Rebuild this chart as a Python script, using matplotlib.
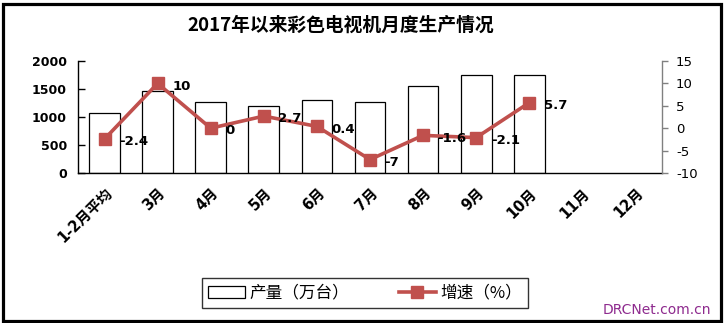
import matplotlib
matplotlib.use("Agg")
import matplotlib.pyplot as plt
from matplotlib.patches import Rectangle, Patch
from matplotlib.lines import Line2D

categories = ["1-2月平均", "3月", "4月", "5月", "6月", "7月", "8月", "9月", "10月", "11月", "12月"]
output = [1070, 1460, 1262, 1192, 1298, 1262, 1555, 1750, 1750]
growth = [-2.4, 10, 0, 2.7, 0.4, -7, -1.6, -2.1, 5.7]
growth_labels = ["-2.4", "10", "0", "2.7", "0.4", "-7", "-1.6", "-2.1", "5.7"]
left_ticks = [0, 500, 1000, 1500, 2000]
right_ticks = [-10, -5, 0, 5, 10, 15]

FAM = ["DejaVu Sans", "Noto Sans CJK SC"]
CJK = ["Noto Sans CJK SC", "DejaVu Sans"]
plt.rcParams["font.family"] = FAM

W, H = 725, 323
fig = plt.figure(figsize=(W / 100, H / 100), dpi=100)
fig.patch.set_facecolor("white")

ax = fig.add_axes([78 / W, 1 - 173 / H, (662 - 78) / W, (173 - 61) / H])
ax2 = ax.twinx()

x = list(range(len(categories)))
ax.bar(x[:len(output)], output, width=0.58, facecolor="white", edgecolor="black", linewidth=0.9, zorder=2)
ax.set_xlim(-0.5, len(categories) - 0.5)
ax.set_ylim(0, 2000)
ax.set_yticks(left_ticks)
ax.set_yticklabels([str(v) for v in left_ticks], fontsize=9, fontweight="bold")
ax.tick_params(axis="y", direction="in", length=5, width=1, pad=8)
ax.set_xticks(x)
ax.set_xticklabels(categories, rotation=45, ha="right", rotation_mode="anchor",
                   fontsize=10.5, fontweight="bold", family=FAM)
ax.tick_params(axis="x", length=0, pad=9)
for s in ["top", "right"]:
    ax.spines[s].set_visible(False)
ax.spines["left"].set_linewidth(1)
ax.spines["bottom"].set_linewidth(1)
ax.spines["bottom"].set_zorder(5)

ax2.plot(x[:len(growth)], growth, color="#C0504D", linewidth=2.6, marker="s", markersize=8.5, zorder=4)
ax2.set_ylim(-10, 15)
ax2.set_yticks(right_ticks)
ax2.set_yticklabels([str(v) for v in right_ticks], fontsize=9.5)
ax2.tick_params(axis="y", direction="out", length=4, width=1, color="#808080", pad=6)
for s in ["top", "left", "bottom"]:
    ax2.spines[s].set_visible(False)
ax2.spines["right"].set_color("#808080")
ax2.spines["right"].set_linewidth(1)

for xi, v, lab in zip(x, growth, growth_labels):
    ax2.annotate(lab, (xi, v), xytext=(10.5, -2), textcoords="offset points",
                 ha="left", va="center", fontsize=9.5, fontweight="bold", zorder=6)

fig.text(341 / W, 1 - 25.5 / H, "2017年以来彩色电视机月度生产情况", ha="center", va="center",
         fontsize=13.5, fontweight="bold", family=CJK)

handles = [Patch(facecolor="white", edgecolor="black", linewidth=0.9),
           Line2D([], [], color="#C0504D", linewidth=2.6, marker="s", markersize=8.5)]
leg = fig.legend(handles, ["产量（万台）", "增速（%）"], ncol=2, loc="center",
                 bbox_to_anchor=(365 / W, 1 - 293 / H), frameon=True, fancybox=False,
                 prop={"family": CJK, "size": 12}, handlelength=2.2, handletextpad=0.25,
                 columnspacing=3.0, borderpad=0.4, borderaxespad=0)
leg.get_frame().set_edgecolor("black")
leg.get_frame().set_linewidth(1)

fig.text(711 / W, 1 - 310 / H, "DRCNet.com.cn", ha="right", va="center", fontsize=10,
         color="#8E2A8E", family=["DejaVu Sans"])

fig.patches.append(Rectangle((2.5 / W, 2.5 / H), (W - 7) / W, (H - 6) / H, transform=fig.transFigure,
                             fill=False, edgecolor="black", linewidth=2.3))

fig.savefig("out.png", dpi=100, facecolor="white")
